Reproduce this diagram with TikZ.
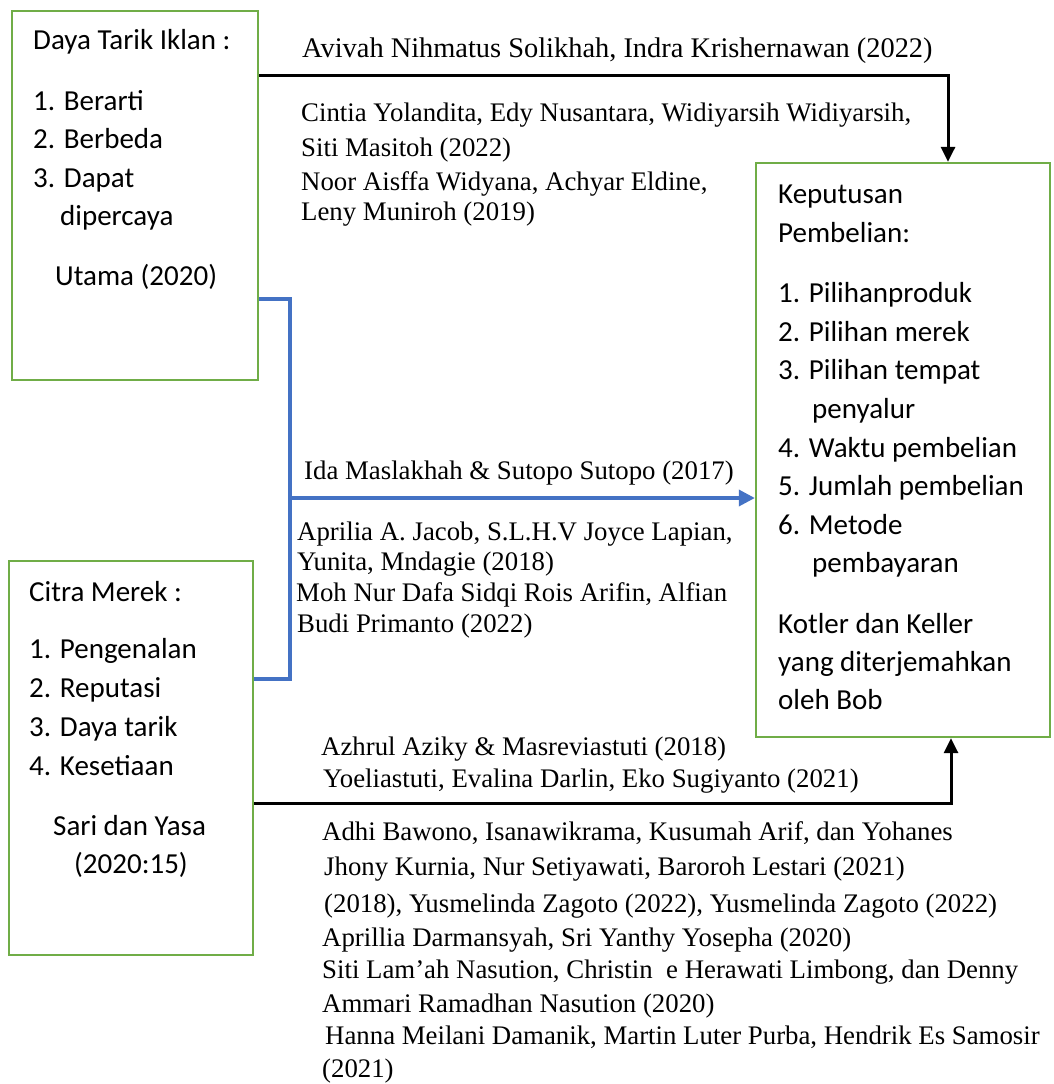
\documentclass[tikz,border=0pt]{standalone}
\usepackage{fontspec}
\setmainfont{Liberation Serif}
\newfontfamily\calfont{Carlito}
\usetikzlibrary{arrows.meta}
\definecolor{boxgreen}{HTML}{70AD47}
\definecolor{lineblue}{HTML}{4472C4}
\begin{document}
\begin{tikzpicture}[x=1pt,y=-1pt,
  varbox/.style={draw=boxgreen,line width=2.3pt,inner sep=0pt,fill=none},
  cal/.style={anchor=base west,inner sep=0pt,font=\calfont\fontsize{29}{35}\selectfont},
  ser/.style={anchor=base west,inner sep=0pt,font=\fontsize{26.8}{32}\selectfont},
  serbig/.style={anchor=base west,inner sep=0pt,font=\fontsize{28.4}{34}\selectfont},
  blk/.style={draw=black,line width=3pt},
  blu/.style={draw=lineblue,line width=3.4pt},
  tip/.style={-{Triangle[width=14pt,length=15pt]}}]
\useasboundingbox (0,0) rectangle (1053,1084);

% boxes
\node[varbox,minimum width=246pt,minimum height=369pt] (b1) at (135,195.5) {};
\node[varbox,minimum width=244pt,minimum height=394pt] (b2) at (131,758) {};
\node[varbox,minimum width=294pt,minimum height=574pt] (b3) at (903,450) {};

% box 1 text
\node[cal] (t11) at (33,49) {Daya Tarik Iklan :};
\node[cal] (t12) at (33,110) {1. Berarti};
\node[cal] (t13) at (33,148) {2. Berbeda};
\node[cal] (t14) at (33,187) {3. Dapat};
\node[cal] (t15) at (60,225) {dipercaya};
\node[cal] (t16) at (55,285) {Utama (2020)};

% box 2 text
\node[cal] (t21) at (29,601) {Citra Merek :};
\node[cal] (t22) at (29,658) {1. Pengenalan};
\node[cal] (t23) at (29,697) {2. Reputasi};
\node[cal] (t24) at (29,736) {3. Daya tarik};
\node[cal] (t25) at (29,775) {4. Kesetiaan};
\node[cal] (t26) at (53,835) {Sari dan Yasa};
\node[cal] (t27) at (74,873) {(2020:15)};

% box 3 text
\node[cal] (t31) at (778,203) {Keputusan};
\node[cal] (t32) at (778,242) {Pembelian:};
\node[cal] (t33) at (778,302) {1. Pilihanproduk};
\node[cal] (t34) at (778,341) {2. Pilihan merek};
\node[cal] (t35) at (778,379) {3. Pilihan tempat};
\node[cal] (t36) at (812,418) {penyalur};
\node[cal] (t37) at (778,457) {4. Waktu pembelian};
\node[cal] (t38) at (778,495) {5. Jumlah pembelian};
\node[cal] (t39) at (778,534) {6. Metode};
\node[cal] (t3a) at (812,572) {pembayaran};
\node[cal] (t3b) at (778,633) {Kotler dan Keller};
\node[cal] (t3c) at (778,671) {yang diterjemahkan};
\node[cal] (t3d) at (778,709) {oleh Bob};

% connectors
\coordinate (tc) at (948,75);
\draw[blk,tip] (b1.east |- tc) -- (tc) -- (tc |- b3.north);
\coordinate (bc) at (951,803);
\draw[blk,tip] (b2.east |- bc) -- (bc) -- (bc |- b3.south);
\coordinate (bt) at (290,299);
\coordinate (bb) at (290,679);
\coordinate (bj) at (290,498);
\draw[blu] (b1.east |- bt) -- (bt) -- (bb) -- (b2.east |- bb);
\draw[blu,-{Triangle[width=16pt,length=16pt]}] (bj) -- (b3.west |- bj);

% top references
\node[serbig] (r1) at (302,57) {Avivah Nihmatus Solikhah, Indra Krishernawan (2022)};
\node[ser] (r2) at (301,121) {Cintia Yolandita, Edy Nusantara, Widiyarsih Widiyarsih,};
\node[ser] (r3) at (301,156) {Siti Masitoh (2022)};
\node[ser] (r4) at (301,190) {Noor Aisffa Widyana, Achyar Eldine,};
\node[ser] (r5) at (301,220) {Leny Muniroh (2019)};

% middle references
\node[ser] (m1) at (304,479) {Ida Maslakhah \& Sutopo Sutopo (2017)};
\node[ser] (m2) at (297,540) {Aprilia A. Jacob, S.L.H.V Joyce Lapian,};
\node[ser] (m3) at (297,570) {Yunita, Mndagie (2018)};
\node[ser] (m4) at (296,601) {Moh Nur Dafa Sidqi Rois Arifin, Alfian};
\node[ser] (m5) at (297,632) {Budi Primanto (2022)};

% bottom references
\node[ser] (d1) at (321,755) {Azhrul Aziky \& Masreviastuti (2018)};
\node[ser] (d2) at (323,787) {Yoeliastuti, Evalina Darlin, Eko Sugiyanto (2021)};
\node[ser] (d3) at (322,840) {Adhi Bawono, Isanawikrama, Kusumah Arif, dan Yohanes};
\node[ser] (d4) at (324,875) {Jhony Kurnia, Nur Setiyawati, Baroroh Lestari (2021)};
\node[ser] (d5) at (324,912) {(2018), Yusmelinda Zagoto (2022), Yusmelinda Zagoto (2022)};
\node[ser] (d6) at (322,946) {Aprillia Darmansyah, Sri Yanthy Yosepha (2020)};
\node[ser] (d7) at (322,978) {Siti Lam’ah Nasution, Christin\ \ e Herawati Limbong, dan Denny};
\node[ser] (d8) at (322,1012) {Ammari Ramadhan Nasution (2020)};
\node[ser] (d9) at (325,1044) {Hanna Meilani Damanik, Martin Luter Purba, Hendrik Es Samosir};
\node[ser] (da) at (322,1077) {(2021)};
\end{tikzpicture}
\end{document}
